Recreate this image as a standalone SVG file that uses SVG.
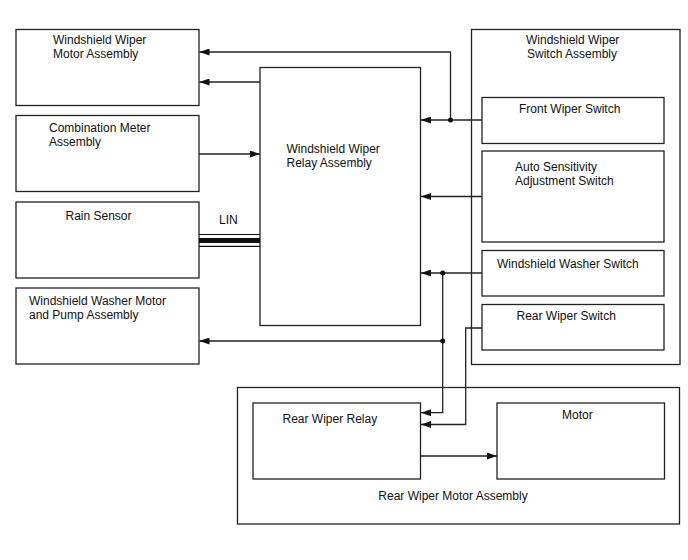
<svg xmlns="http://www.w3.org/2000/svg" width="688" height="560" viewBox="0 0 688 560">
<style>
.box{fill:#fff;stroke:#222;stroke-width:1.3}
.ln{fill:none;stroke:#222;stroke-width:1.3}
text{font-family:"Liberation Sans",Arial,sans-serif;font-size:12px;fill:#111}
</style>
<defs>
<marker id="ah" markerUnits="userSpaceOnUse" markerWidth="10" markerHeight="7" refX="10" refY="3.5" orient="auto">
<path d="M0,0 L10,3.5 L0,7 z" fill="#111"/>
</marker>
</defs>
<rect width="688" height="560" fill="#fff"/>
<g id="wiper-motor"><rect class="box" x="16" y="29.5" width="183" height="76"/><text x="53" y="44">Windshield Wiper</text><text x="53" y="58">Motor Assembly</text></g>
<g id="combination-meter"><rect class="box" x="16" y="115.5" width="183" height="76"/><text x="49" y="132">Combination Meter</text><text x="49" y="146">Assembly</text></g>
<g id="rain-sensor"><rect class="box" x="16" y="202" width="183" height="76"/><text x="65.5" y="219.5">Rain Sensor</text></g>
<g id="washer-motor"><rect class="box" x="16" y="288" width="183" height="76"/><text x="29" y="305">Windshield Washer Motor</text><text x="29" y="319">and Pump Assembly</text></g>
<g id="relay"><rect class="box" x="260" y="67.5" width="160.5" height="258"/><text x="286.5" y="152.5">Windshield Wiper</text><text x="286.5" y="166.5">Relay Assembly</text></g>
<g id="switch-assembly"><rect class="box" x="471.5" y="29.5" width="208.5" height="335"/><text x="526" y="44">Windshield Wiper</text><text x="527" y="58">Switch Assembly</text></g>
<g id="front-wiper-switch"><rect class="box" x="482" y="97.5" width="182" height="46"/><text x="519" y="113">Front Wiper Switch</text></g>
<g id="auto-sensitivity"><rect class="box" x="482" y="151" width="182" height="91"/><text x="515" y="171">Auto Sensitivity</text><text x="515" y="185">Adjustment Switch</text></g>
<g id="washer-switch"><rect class="box" x="482" y="250.5" width="182" height="45.5"/><text x="497" y="267.5">Windshield Washer Switch</text></g>
<g id="rear-wiper-switch"><rect class="box" x="482" y="304.5" width="182" height="45.5"/><text x="516.5" y="319.5">Rear Wiper Switch</text></g>
<g id="rear-motor-assembly"><rect class="box" x="237.5" y="387.5" width="442" height="136.5"/><text x="453" y="500" text-anchor="middle">Rear Wiper Motor Assembly</text></g>
<g id="rear-wiper-relay"><rect class="box" x="253" y="403" width="167.5" height="76"/><text x="282.5" y="423">Rear Wiper Relay</text></g>
<g id="motor"><rect class="box" x="497" y="403" width="167.5" height="76"/><text x="562" y="418.5">Motor</text></g>
<g id="connectors">
<path class="ln" d="M482,120 L421,120" marker-end="url(#ah)"/>
<path class="ln" d="M450.5,120 L450.5,52 L199.5,52" marker-end="url(#ah)"/>
<path class="ln" d="M260,82 L199.5,82" marker-end="url(#ah)"/>
<path class="ln" d="M199,154 L260,154" marker-end="url(#ah)"/>
<path class="ln" d="M482,196.5 L421,196.5" marker-end="url(#ah)"/>
<path class="ln" d="M482,273 L421,273" marker-end="url(#ah)"/>
<path class="ln" d="M442.7,273 L442.7,412.7 L421,412.7" marker-end="url(#ah)"/>
<path class="ln" d="M442.7,341 L199.5,341" marker-end="url(#ah)"/>
<path class="ln" d="M482,328 L465.7,328 L465.7,424.5 L421,424.5" marker-end="url(#ah)"/>
<path class="ln" d="M421,456 L497,456" marker-end="url(#ah)"/>
<circle cx="450.5" cy="120" r="2.5" fill="#111"/>
<circle cx="442.7" cy="273" r="2.5" fill="#111"/>
<circle cx="442.7" cy="341" r="2.5" fill="#111"/>
<line x1="199" y1="234.5" x2="260" y2="234.5" stroke="#111" stroke-width="1.2"/>
<line x1="199" y1="240.5" x2="260" y2="240.5" stroke="#111" stroke-width="5"/>
<line x1="199" y1="246.3" x2="260" y2="246.3" stroke="#111" stroke-width="1.2"/>
<text x="219" y="224">LIN</text>
</g>
</svg>
